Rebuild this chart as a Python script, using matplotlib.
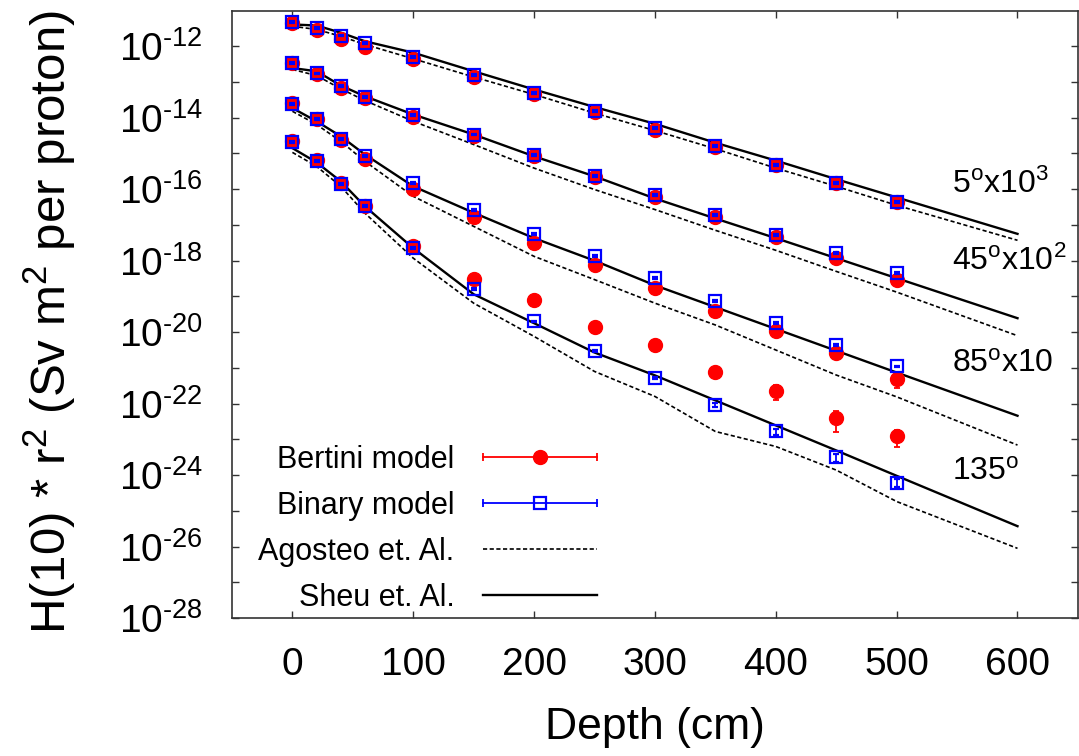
import numpy as np
import matplotlib
matplotlib.use('Agg')
import matplotlib.pyplot as plt
from matplotlib.lines import Line2D
from matplotlib.legend_handler import HandlerLine2D

plt.rcParams['font.family'] = ['Liberation Sans', 'DejaVu Sans']
plt.rcParams['mathtext.fontset'] = 'custom'
plt.rcParams['mathtext.rm'] = 'Liberation Sans'
plt.rcParams['mathtext.default'] = 'regular'

# depths (cm)
depth_mc = [0, 20, 40, 60, 100, 150, 200, 250, 300, 350, 400, 450, 500]
depth_ref = [0, 20, 40, 60, 100, 150, 200, 250, 300, 350, 400, 450, 500, 600]

# log10 of plotted H(10)*r^2 (already scaled: 5deg x1e3, 45deg x1e2, 85deg x10)
bertini_5 = [-11.34, -11.55, -11.79, -12.02, -12.37, -12.86, -13.35, -13.85, -14.33, -14.83, -15.33, -15.83, -16.35]
bertini_45 = [-12.47, -12.79, -13.17, -13.46, -13.98, -14.52, -15.08, -15.67, -16.22, -16.78, -17.34, -17.93, -18.53]
bertini_85 = [-13.59, -14.03, -14.61, -15.15, -15.99, -16.78, -17.51, -18.13, -18.77, -19.42, -19.96, -20.59, -21.32]
bertini_135 = [-14.66, -15.17, -15.82, -16.46, -17.60, -18.51, -19.11, -19.86, -20.36, -21.11, -21.64, -22.41, -22.92]

binary_5 = [-11.33, -11.48, -11.70, -11.90, -12.30, -12.80, -13.31, -13.80, -14.29, -14.80, -15.33, -15.83, -16.36]
binary_45 = [-12.47, -12.76, -13.12, -13.43, -13.93, -14.47, -15.05, -15.62, -16.15, -16.71, -17.27, -17.79, -18.35]
binary_85 = [-13.61, -14.03, -14.59, -15.08, -15.83, -16.57, -17.26, -17.88, -18.49, -19.14, -19.75, -20.36, -20.96]
binary_135 = [-14.69, -15.22, -15.85, -16.48, -17.65, -18.80, -19.70, -20.52, -21.29, -22.04, -22.78, -23.50, -24.21]

# relative errors
bertini_err_5 = [0.05] * 13
bertini_err_45 = [0.05] * 13
bertini_err_85 = [0.05] * 12 + [0.44]
bertini_err_135 = [0.05] * 8 + [0.1, 0.15, 0.46, 0.58, 0.5]
binary_err_5 = [0.06] * 13
binary_err_45 = [0.06] * 13
binary_err_85 = [0.06] * 13
binary_err_135 = [0.06] * 9 + [0.12, 0.2, 0.25, 0.25]

sheu_5 = [-11.39, -11.42, -11.62, -11.86, -12.18, -12.70, -13.21, -13.70, -14.17, -14.70, -15.20, -15.72, -16.23, -17.25]
sheu_45 = [-12.61, -12.70, -13.10, -13.40, -13.91, -14.47, -15.08, -15.64, -16.26, -16.82, -17.37, -17.93, -18.49, -19.61]
sheu_85 = [-13.73, -14.10, -14.52, -15.03, -15.92, -16.66, -17.37, -18.00, -18.69, -19.30, -19.91, -20.52, -21.13, -22.34]
sheu_135 = [-14.85, -15.25, -15.78, -16.48, -17.65, -18.94, -19.75, -20.57, -21.21, -21.91, -22.61, -23.31, -24.02, -25.43]

agosteo_5 = [-11.44, -11.53, -11.72, -11.95, -12.35, -12.86, -13.35, -13.87, -14.36, -14.87, -15.41, -15.92, -16.45, -17.43]
agosteo_45 = [-12.65, -12.82, -13.19, -13.52, -14.10, -14.75, -15.41, -16.01, -16.57, -17.15, -17.71, -18.30, -18.88, -20.10]
agosteo_85 = [-13.82, -14.19, -14.66, -15.22, -16.20, -17.04, -17.88, -18.53, -19.19, -19.80, -20.50, -21.20, -21.81, -23.16]
agosteo_135 = [-14.97, -15.36, -15.92, -16.67, -17.93, -19.19, -20.12, -21.10, -21.80, -22.78, -23.20, -23.86, -24.74, -26.05]

angle_labels = ['5$^o$x10$^3$', '45$^o$x10$^2$', '85$^o$x10', '135$^o$']
angle_label_y = [-16.10, -18.25, -21.11, -24.14]
angle_label_x = 546

ytick_exp = list(range(-28, -11))
xticks = [0, 100, 200, 300, 400, 500, 600]

bertini = [bertini_5, bertini_45, bertini_85, bertini_135]
binary = [binary_5, binary_45, binary_85, binary_135]
bertini_err = [bertini_err_5, bertini_err_45, bertini_err_85, bertini_err_135]
binary_err = [binary_err_5, binary_err_45, binary_err_85, binary_err_135]
sheu = [sheu_5, sheu_45, sheu_85, sheu_135]
agosteo = [agosteo_5, agosteo_45, agosteo_85, agosteo_135]

dash_pat = (2.5, 1.5)

fig = plt.figure(figsize=(10.79, 7.56), dpi=100)
ax = fig.add_axes([0.215, 0.1825, 0.784, 0.8036])

for i in range(4):
    ax.plot(depth_ref, 10.0 ** np.array(agosteo[i]), color='black', lw=1.2,
            dashes=dash_pat, zorder=2)
    ax.plot(depth_ref, 10.0 ** np.array(sheu[i]), color='black', lw=1.7, zorder=2)

    yb = 10.0 ** np.array(bertini[i])
    ax.errorbar(depth_mc, yb, yerr=yb * np.array(bertini_err[i]), fmt='o',
                color='red', ms=10, elinewidth=1.3, capsize=2.5, capthick=1.3,
                zorder=3)
    yn = 10.0 ** np.array(binary[i])
    ax.errorbar(depth_mc, yn, yerr=yn * np.array(binary_err[i]), fmt='s',
                color='blue', mfc='none', mec='blue', mew=1.6, ms=8.5,
                elinewidth=1.3, capsize=2.5, capthick=1.3, zorder=4)

    ax.text(angle_label_x, 10.0 ** angle_label_y[i], angle_labels[i],
            fontsize=23, ha='left', va='baseline')

ax.set_yscale('log')
ax.set_xlim(-50, 650)
ax.set_ylim(1e-28, 1e-11)
ax.set_yticks([10.0 ** e for e in ytick_exp])
ax.set_yticklabels(['10$^{\\text{-%d}}$' % (-e) if e % 2 == 0 else '' for e in ytick_exp])
ax.yaxis.set_minor_locator(matplotlib.ticker.NullLocator())
ax.set_xticks(xticks)

for s in ax.spines.values():
    s.set_color('#333333')
    s.set_linewidth(1.2)
ax.tick_params(direction='in', top=True, right=True, length=5, width=1,
               color='#333333', labelsize=28)
ax.tick_params(axis='y', pad=21)
ax.tick_params(axis='x', pad=21)

ax.set_xlabel('Depth (cm)', fontsize=32)
ax.xaxis.set_label_coords(0.5, -0.146)
ax.set_ylabel('H(10) * r$^2$ (Sv m$^2$ per proton)', fontsize=35.5)
ax.yaxis.set_label_coords(-0.182, 0.487)

# legend (gnuplot style: label left, sample right)
bert_line = Line2D([], [], color='red', lw=1.3, marker='o', ms=10)
bert_caps = Line2D([], [], color='red', lw=0, marker='|', ms=6, mew=1.3)
bin_line = Line2D([], [], color='blue', lw=1.3, marker='s', ms=8.5, mfc='none', mew=1.6)
bin_caps = Line2D([], [], color='blue', lw=0, marker='|', ms=6, mew=1.3)
ago_line = Line2D([], [], color='black', lw=1.2, dashes=dash_pat)
sheu_line = Line2D([], [], color='black', lw=1.7)

hmap = {bert_caps: HandlerLine2D(numpoints=2, marker_pad=0),
        bin_caps: HandlerLine2D(numpoints=2, marker_pad=0)}
ax.legend([(bert_line, bert_caps), (bin_line, bin_caps), ago_line, sheu_line],
          ['Bertini model', 'Binary model', 'Agosteo et. Al.', 'Sheu et. Al.'],
          loc='center right', bbox_to_anchor=(0.432, 0.147), markerfirst=False,
          frameon=False, fontsize=22, handlelength=3.73, handletextpad=0.95,
          labelspacing=0.52, borderpad=0, borderaxespad=0, handler_map=hmap)

fig.savefig('out.png', dpi=100)
